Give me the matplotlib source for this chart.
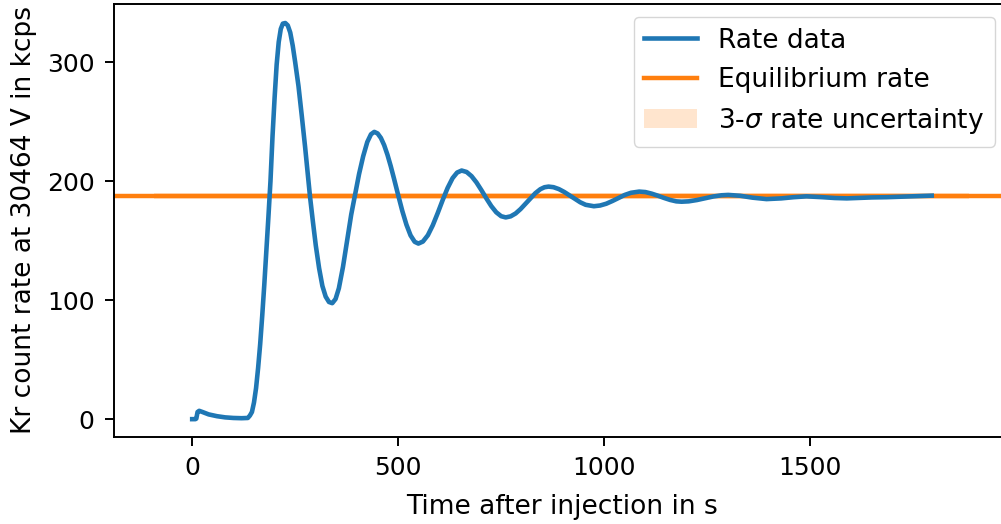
import matplotlib
matplotlib.use("Agg")
import matplotlib.pyplot as plt

# Measured Kr count rate after injection (time in s, rate in kcps)
time_s = [0, 8, 10, 13, 17, 25, 40, 60, 80, 100, 120, 135, 140, 145, 150, 155,
          160, 165, 170, 175, 180, 185, 190, 195, 200, 205, 210, 215, 220, 226,
          232, 238, 244, 250, 258, 266, 274, 280, 286, 293, 300, 308, 316, 324,
          332, 340, 348, 356, 366, 376, 386, 395, 405, 415, 425, 434, 442, 450,
          458, 466, 474, 482, 490, 500, 510, 520, 530, 540, 549, 560, 572, 584,
          596, 608, 620, 632, 643, 654, 666, 678, 690, 702, 714, 726, 738, 750,
          761, 773, 785, 797, 809, 821, 833, 845, 855, 865, 877, 890, 903, 916,
          929, 942, 955, 975, 990, 1005, 1020, 1035, 1050, 1065, 1085, 1100,
          1115, 1130, 1145, 1160, 1175, 1188, 1205, 1225, 1245, 1265, 1285,
          1301, 1330, 1360, 1394, 1430, 1460, 1491, 1530, 1560, 1589, 1620,
          1650, 1686, 1720, 1760, 1795]
rate_kcps = [0, 0, 0.5, 6, 7, 6, 4, 2.5, 1.5, 1, 0.8, 1, 3, 6, 14, 26,
             43, 63, 87, 113, 141, 170, 200, 238, 270, 298, 317, 328, 332.5, 333,
             331, 325, 314, 300, 280, 255, 229, 208, 187, 166, 146, 127, 112, 103,
             98.5, 97.5, 101, 110, 128, 150, 172, 188, 206, 221, 233, 239.5, 241.5, 240.2,
             236.4, 230.3, 222.2, 212.6, 202, 188.3, 175, 163.5, 154.5, 149.1, 147.6, 149.3, 154.6, 163,
             173.3, 184.2, 194.4, 202.6, 207.3, 209, 207.8, 204.3, 199, 192.5, 185.6, 179.1, 173.9, 170.6,
             169.6, 170.5, 172.9, 176.6, 181.1, 185.7, 190, 193.3, 194.95, 195.5, 195, 193.4, 191, 188.1,
             185.1, 182.3, 180.2, 179, 179.6, 181.1, 183.4, 186, 188.5, 190.3, 191.3, 190.9,
             189.6, 187.9, 186, 184.3, 183.1, 182.8, 183.1, 184.2, 185.7, 187.2, 188.2,
             188.5, 187.8, 186.2, 185, 185.6, 186.6, 187.3, 186.6, 185.9, 185.6, 186,
             186.4, 186.6, 187, 187.5, 187.9]

# Fitted equilibrium rate and its 3-sigma band
equilibrium_rate = 187.6
sigma3 = 2.5
band_time = [-92, 1886]

fig = plt.figure(figsize=(10.01, 5.24), dpi=100)
ax = fig.add_axes([113.5 / 1001, (524 - 437) / 524,
                   (1010 - 113.5) / 1001, (437 - 4) / 524])

ax.plot(time_s, rate_kcps, color="C0", lw=3.3, label="Rate data", zorder=3,
        solid_joinstyle="round")
ax.axhline(equilibrium_rate, color="C1", lw=3.2, label="Equilibrium rate", zorder=2)
ax.fill_between(band_time, equilibrium_rate - sigma3, equilibrium_rate + sigma3,
                color="C1", alpha=0.2, lw=0, label=r"3-$\sigma$ rate uncertainty",
                zorder=1)

ax.set_xlim(-191, 1985)
ax.set_ylim(-15, 349)
ax.set_xticks([0, 500, 1000, 1500])
ax.set_yticks([0, 100, 200, 300])

ax.set_xlabel("Time after injection in s", fontsize=19, labelpad=10)
ax.set_ylabel("Kr count rate at 30464 V in kcps", fontsize=19, labelpad=7)
ax.tick_params(labelsize=18, length=6.5, width=1.4, pad=7)
for sp in ax.spines.values():
    sp.set_linewidth(1.4)

ax.legend(loc="upper right", bbox_to_anchor=(995 / 1001, 1 - 17 / 524),
          bbox_transform=fig.transFigure, borderaxespad=0, fontsize=19,
          framealpha=0.8, edgecolor="0.8")

fig.savefig("out.png", dpi=100)
